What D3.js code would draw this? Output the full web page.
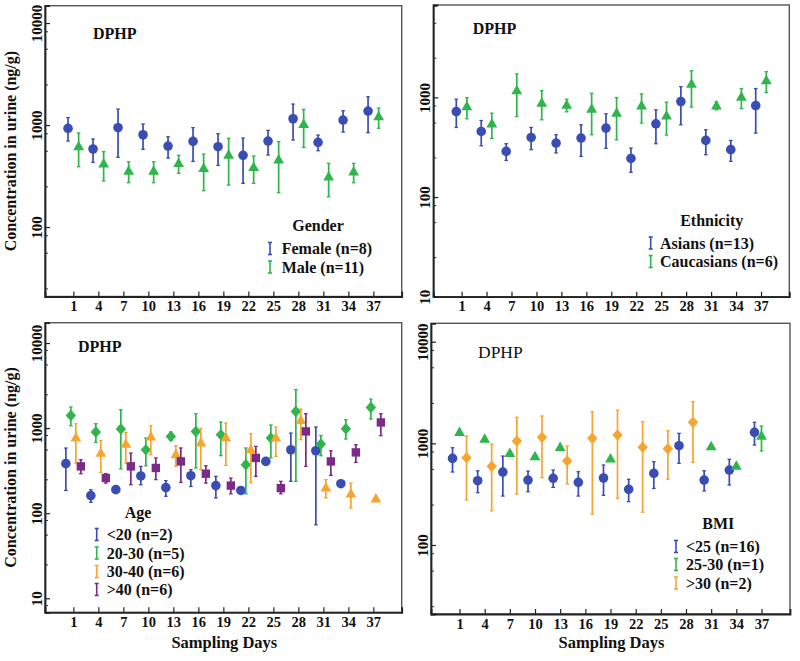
<!DOCTYPE html>
<html><head><meta charset="utf-8">
<script src="https://cdn.jsdelivr.net/npm/d3@7"></script>
<style>
body{margin:0;background:#fff}
svg{display:block}
text{font-family:"Liberation Serif","Times New Roman",serif;fill:#111}
</style>
</head><body>
<svg id="chart" width="800" height="661"></svg>
<script>
// ---------------- DATA ----------------
const days = [1,4,7,10,13,16,19,22,25,28,31,34,37];
const yTickLabels = [10,100,1000,10000];
const minorFactors = [2.5,5.6,8.3];

// Gender
const femaleMean = [929,582,942,803,622,692,613,505,697,1153,676,1119,1371];
const femaleLow  = [697,431,482,578,474,440,402,268,508,713,560,853,841];
const femaleHigh = [1183,730,1435,1023,767,942,822,746,887,1606,798,1381,1893];
const maleMean = [613,415,354,354,421,376,508,384,454,1016,311,348,1208];
const maleLow  = [390,283,272,272,336,227,258,268,217,603,198,272,929];
const maleHigh = [836,548,437,437,505,520,741,497,687,1425,421,421,1468];

// Ethnicity
const asianMean = [721,455,287,396,348,391,492,244,543,908,370,299,828];
const asianLow  = [499,327,233,299,277,256,308,177,343,531,266,228,438];
const asianHigh = [959,586,343,499,422,531,684,310,750,1282,473,370,1225];
const caucMean = [809,543,1169,875,836,762,695,822,653,1355,822,1005,1472];
const caucLow  = [610,387,643,596,716,422,376,552,419,798,750,773,1117];
const caucHigh = [995,695,1718,1169,959,1101,995,1084,895,1853,902,1225,1811];

// Age
const ageU20Mean = [382,161,189,274,200,276,211,185,406,557,542,222,null];
const ageU20Low  = [185,134,174,216,158,206,151,175,null,237,73,null,null];
const ageU20High = [583,189,205,355,241,325,271,196,null,875,1030,null,null];
const age2030Mean = [1409,900,976,557,799,915,836,372,765,1571,650,984,1751];
const age2030Low  = [1067,679,331,361,717,340,474,169,446,237,474,745,1279];
const age2030High = [1770,1126,1644,765,900,1476,1180,584,1087,2825,820,1256,2198];
const age3040Mean = [765,509,650,786,487,668,765,557,765,1232,198,169,147];
const age3040Low  = [389,301,389,487,355,324,365,228,465,731,151,115,null];
const age3040High = [1126,716,890,1067,621,991,1148,859,1030,1675,248,226,null];
const ageO40Mean = [355,259,355,340,406,291,211,446,197,915,406,518,1166];
const ageO40Low  = [291,226,216,248,230,226,169,271,169,355,278,395,814];
const ageO40High = [425,291,509,446,584,361,259,610,237,1476,542,638,1476];

// BMI
const bmiU25Mean = [711,429,522,435,453,413,456,353,507,948,435,546,1283];
const bmiU25Low  = [522,327,303,334,369,303,308,267,360,635,340,389,962];
const bmiU25High = [905,537,750,533,546,526,612,443,659,1254,537,697,1610];
const bmi2530Mean = [1283,1102,797,738,914,null,701,null,null,null,926,598,1180];
const bmi2530Low  = [null,null,null,null,null,null,null,null,null,null,null,null,840];
const bmi2530High = [null,null,null,null,null,null,null,null,null,null,null,null,1480];
const bmiO30Mean = [722,594,1054,1146,670,1120,1207,914,885,1610,null,null,null];
const bmiO30Low  = [277,217,317,459,398,201,288,210,443,650,null,null,null];
const bmiO30High = [1180,984,1802,1857,940,2046,2128,1632,1331,2566,null,null,null];

const seriesLabels = {
  gender:["Female (n=8)","Male (n=11)"],
  ethnicity:["Asians (n=13)","Caucasians (n=6)"],
  age:["<20 (n=2)","20-30 (n=5)","30-40 (n=6)",">40 (n=6)"],
  bmi:["<25 (n=16)","25-30 (n=1)",">30 (n=2)"]
};

// ---------------- STYLE ----------------
const C = {blue:"#3a4db3", green:"#2fb54b", orange:"#f7a531", purple:"#7b2a88"};
const FONT = '"Liberation Serif","Times New Roman",serif';

const shapes = {
  circle: "M4.8,0A4.8,4.8 0 1,1 -4.8,0A4.8,4.8 0 1,1 4.8,0Z",
  triangle: "M0,-5.9L5.4,3.6L-5.4,3.6Z",
  diamond: "M0,-5.8L5.2,0L0,5.8L-5.2,0Z",
  square: "M-4.2,-4.2H4.2V4.2H-4.2Z"
};

const panels = [
  { x0:45, x1:401.7, y0:5.7, y1:296.5, yMin:Math.pow(10,1.319), yMax:Math.pow(10,4.17),
    ticks:[100,1000,10000], dphp:{x:93,y:38.5,bold:true,size:16},
    legend:{title:"Gender", tx:318, ty:231, sx:270, lx:281.7, rows:[254,272.5], labels:seriesLabels.gender},
    xTitle:false,
    series:[
      {color:C.blue, shape:"circle", off:-5.3, mean:femaleMean, low:femaleLow, high:femaleHigh},
      {color:C.green, shape:"triangle", off:5.3, mean:maleMean, low:maleLow, high:maleHigh}
    ]},
  { x0:433.3, x1:789.3, y0:5, y1:296.7, yMin:10, yMax:Math.pow(10,3.927),
    ticks:[10,100,1000], dphp:{x:472.7,y:33.5,bold:true,size:16},
    legend:{title:"Ethnicity", tx:711.7, ty:225.5, sx:650.7, lx:660, rows:[248.5,267], labels:seriesLabels.ethnicity},
    xTitle:false,
    series:[
      {color:C.blue, shape:"circle", off:-5.3, mean:asianMean, low:asianLow, high:asianHigh},
      {color:C.green, shape:"triangle", off:5.3, mean:caucMean, low:caucLow, high:caucHigh}
    ]},
  { x0:45, x1:401.7, y0:322.7, y1:612.3, yMin:Math.pow(10,0.835), yMax:Math.pow(10,4.239),
    ticks:[10,100,1000,10000], dphp:{x:78,y:352,bold:true,size:16},
    legend:{title:"Age", tx:138, ty:518, sx:96.7, lx:106.7, rows:[540,558.5,577,595], labels:seriesLabels.age},
    xTitle:true,
    series:[
      {color:C.blue, shape:"circle", off:-7.5, mean:ageU20Mean, low:ageU20Low, high:ageU20High},
      {color:C.green, shape:"diamond", off:-2.5, mean:age2030Mean, low:age2030Low, high:age2030High},
      {color:C.orange, shape:"triangle", off:2.5, mean:age3040Mean, low:age3040Low, high:age3040High},
      {color:C.purple, shape:"square", off:7.5, mean:ageO40Mean, low:ageO40Low, high:ageO40High}
    ]},
  { x0:431, x1:790, y0:323.3, y1:614, yMin:Math.pow(10,1.321), yMax:Math.pow(10,4.181),
    ticks:[100,1000,10000], dphp:{x:478,y:357.7,bold:false,size:17.5},
    legend:{title:"BMI", tx:718.3, ty:529, sx:676, lx:686, rows:[552,570,588.5], labels:seriesLabels.bmi},
    xTitle:true,
    series:[
      {color:C.blue, shape:"circle", off:-7, mean:bmiU25Mean, low:bmiU25Low, high:bmiU25High},
      {color:C.green, shape:"triangle", off:0, mean:bmi2530Mean, low:bmi2530Low, high:bmi2530High},
      {color:C.orange, shape:"diamond", off:7, mean:bmiO30Mean, low:bmiO30Low, high:bmiO30High}
    ]}
];

// ---------------- DRAW ----------------
const svg = d3.select("#chart");
svg.append("rect").attr("width",800).attr("height",661).attr("fill","#fff");

panels.forEach(p => {
  const g = svg.append("g");
  const x = d3.scaleLinear().domain([-2.4, 40.4]).range([p.x0, p.x1]);
  const y = d3.scaleLog().domain([p.yMin, p.yMax]).range([p.y1, p.y0]);

  // frame
  g.append("rect").attr("x",p.x0).attr("y",p.y0).attr("width",p.x1-p.x0).attr("height",p.y1-p.y0)
    .attr("fill","none").attr("stroke","#555").attr("stroke-width",1.4);

  // minor ticks
  const minors = [];
  for (let e = 0; e <= 4; e++) minorFactors.forEach(f => {
    const v = f*Math.pow(10,e);
    if (v > p.yMin && v < p.yMax) minors.push(v);
  });
  g.append("g").attr("transform",`translate(${p.x0},0)`)
    .call(d3.axisLeft(y).tickValues(minors).tickSize(-3).tickFormat(""))
    .call(s => { s.select(".domain").remove(); s.selectAll("line").attr("stroke","#333").attr("stroke-width",1); });

  // y axis
  const ya = g.append("g").attr("transform",`translate(${p.x0},0)`)
    .call(d3.axisLeft(y).tickValues(p.ticks).tickSize(-5).tickFormat(d3.format("d")));
  ya.select(".domain").attr("stroke","#222").attr("stroke-width",1.8);
  ya.selectAll("line").attr("stroke","#222").attr("stroke-width",1.2);
  ya.selectAll("text").attr("transform","rotate(-90)").attr("x",0).attr("y",-3).attr("dy",0)
    .attr("text-anchor","middle").style("font-family",FONT).style("font-size","15px").style("font-weight","bold").attr("fill","#111");

  // x axis
  const xa = g.append("g").attr("transform",`translate(0,${p.y1})`)
    .call(d3.axisBottom(x).tickValues(days).tickSize(-5).tickPadding(4.5).tickFormat(d3.format("d")));
  xa.select(".domain").attr("stroke","#222").attr("stroke-width",1.8);
  xa.selectAll("line").attr("stroke","#222").attr("stroke-width",1.2);
  xa.selectAll("text").style("font-family",FONT).style("font-size","14.5px").style("font-weight","bold").attr("fill","#111");

  // y title
  const cy = (p.y0 + p.y1)/2;
  if (p.x0 < 100) {
    g.append("text").attr("transform",`translate(16,${cy}) rotate(-90)`).attr("text-anchor","middle")
      .style("font-size","16px").style("font-weight","bold").text("Concentration in urine (ng/g)");
  }
  if (p.xTitle) {
    g.append("text").attr("x",(p.x0+p.x1)/2 + 1).attr("y",648).attr("text-anchor","middle")
      .style("font-size","16.5px").style("font-weight","bold").text("Sampling Days");
  }

  // DPHP
  g.append("text").attr("x",p.dphp.x).attr("y",p.dphp.y)
    .style("font-size",p.dphp.size+"px").style("font-weight",p.dphp.bold?"bold":"normal").text("DPHP");

  // legend
  const L = p.legend;
  g.append("text").attr("x",L.tx).attr("y",L.ty).attr("text-anchor","middle")
    .style("font-size","16px").style("font-weight","bold").text(L.title);
  p.series.forEach((s,i) => {
    const ry = L.rows[i];
    const lg = g.append("g").attr("stroke",s.color).attr("stroke-width",1.6);
    lg.append("line").attr("x1",L.sx).attr("x2",L.sx).attr("y1",ry-11.5).attr("y2",ry+0.5);
    lg.append("line").attr("x1",L.sx-2).attr("x2",L.sx+2).attr("y1",ry-11.5).attr("y2",ry-11.5);
    lg.append("line").attr("x1",L.sx-2).attr("x2",L.sx+2).attr("y1",ry+0.5).attr("y2",ry+0.5);
    g.append("text").attr("x",L.lx).attr("y",ry)
      .style("font-size","16px").style("font-weight","bold").text(L.labels[i]);
  });

  // data
  p.series.forEach(s => {
    const pts = days.map((d,i) => ({d, m:s.mean[i], lo:s.low[i], hi:s.high[i]})).filter(o => o.m != null);
    const sg = g.append("g");
    pts.filter(o => o.lo != null && o.hi != null).forEach(o => {
      const cx = x(o.d) + s.off;
      sg.append("line").attr("x1",cx).attr("x2",cx).attr("y1",y(o.lo)).attr("y2",y(o.hi))
        .attr("stroke",s.color).attr("stroke-width",1.7);
      [o.lo,o.hi].forEach(v => sg.append("line").attr("x1",cx-1.8).attr("x2",cx+1.8).attr("y1",y(v)).attr("y2",y(v))
        .attr("stroke",s.color).attr("stroke-width",1.3));
    });
    sg.selectAll("path.m").data(pts).join("path").attr("class","m")
      .attr("d",shapes[s.shape])
      .attr("transform",o => `translate(${x(o.d)+s.off},${y(o.m)})`)
      .attr("fill",s.color);
  });
});
</script>
</body></html>
